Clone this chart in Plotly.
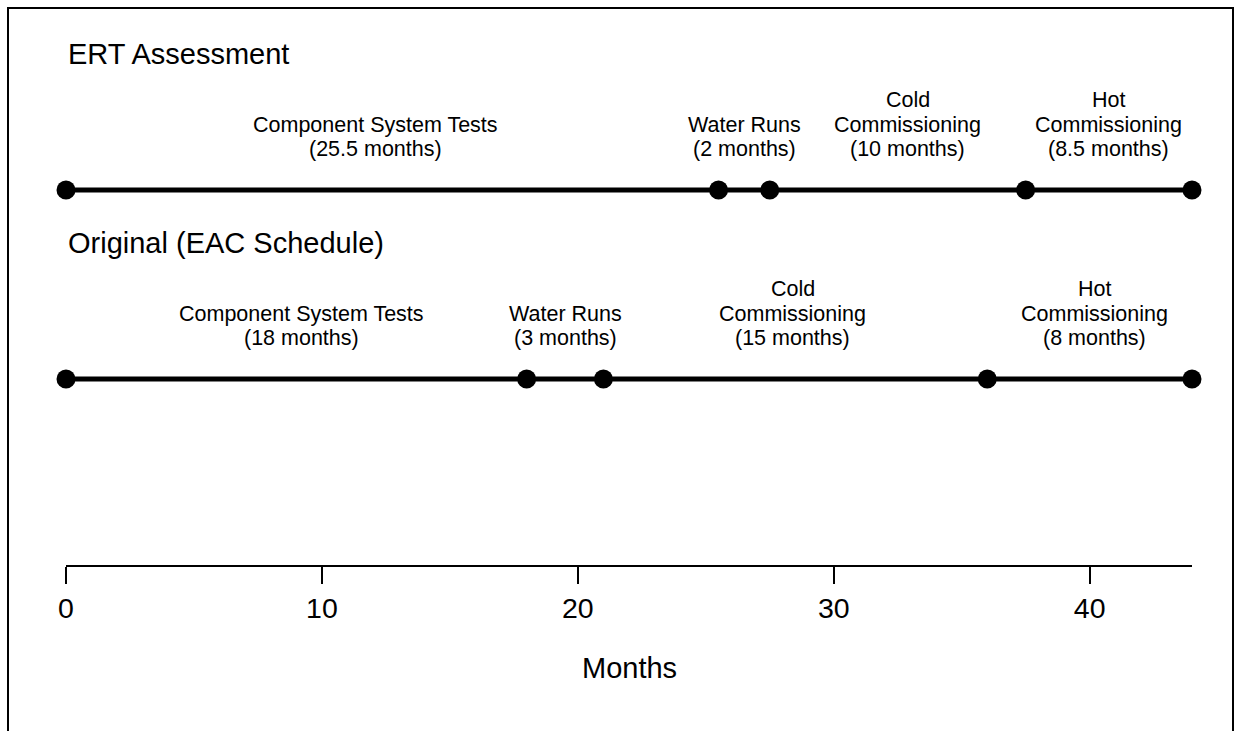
import plotly.graph_objects as go

# ---- data ----
ert_points = [0, 25.5, 27.5, 37.5, 44]
orig_points = [0, 18, 21, 36, 44]

ert_labels = ["Component System Tests<br>(25.5 months)", "Water Runs<br>(2 months)",
              "Cold<br>Commissioning<br>(10 months)", "Hot<br>Commissioning<br>(8.5 months)"]
ert_label_x = [12.1, 26.5, 32.9, 40.75]

orig_labels = ["Component System Tests<br>(18 months)", "Water Runs<br>(3 months)",
               "Cold<br>Commissioning<br>(15 months)", "Hot<br>Commissioning<br>(8 months)"]
orig_label_x = [9.2, 19.5, 28.4, 40.2]

row_titles = ["ERT Assessment", "Original (EAC Schedule)"]
tick_vals = [0, 10, 20, 30, 40]
x_range = [0, 44]

FONT = "Liberation Sans, Arial, sans-serif"

rows = [1, 2]
fig = go.Figure()
for r, pts in zip(rows, [ert_points, orig_points]):
    fig.add_trace(go.Scatter(
        x=pts, y=[r] * len(pts), mode="lines+markers",
        line=dict(color="black", width=5),
        marker=dict(color="black", size=19),
        cliponaxis=False, showlegend=False, hoverinfo="skip"))

annotations = []
LINE_H = 24.5
for r, labels, lx in [(1, ert_labels, ert_label_x), (2, orig_labels, orig_label_x)]:
    for text, x in zip(labels, lx):
        lines = text.split("<br>")
        n = len(lines)
        for i, ln in enumerate(lines):
            shift = 41 + (n - 1 - i) * LINE_H
            annotations.append(dict(
                x=x, y=r, xref="x", yref="y", text=ln, showarrow=False,
                xanchor="center", yanchor="middle", yshift=shift,
                font=dict(family=FONT, size=21.5, color="black")))

for r, t in zip(rows, row_titles):
    annotations.append(dict(
        x=0, y=r, xref="x", yref="y", text=t, showarrow=False,
        xanchor="left", yanchor="middle", yshift=136,
        font=dict(family=FONT, size=29, color="black")))

annotations.append(dict(
    x=22, y=0, xref="x", yref="paper", text="Months", showarrow=False,
    xanchor="center", yanchor="middle", yshift=-103,
    font=dict(family=FONT, size=29, color="black")))

W, H = 1235, 731
L, R, T, B = 66, 43, 0, 166
pw = W - L - R
ph = H - T - B
fig.update_layout(
    width=W, height=H,
    margin=dict(l=L, r=R, t=T, b=B, pad=0),
    paper_bgcolor="white", plot_bgcolor="white",
    annotations=annotations,
    xaxis=dict(range=x_range, tickvals=tick_vals, showgrid=False, zeroline=False,
               showline=True, linecolor="black", linewidth=2,
               ticks="outside", ticklen=17, tickwidth=2, tickcolor="black",
               tickfont=dict(family=FONT, size=28.5, color="black")),
    yaxis=dict(range=[2 + 186 / 189, 1 - 190 / 189], visible=False, fixedrange=True),
    shapes=[dict(type="rect", xref="paper", yref="paper",
                 x0=(8 - L) / pw, x1=(1233 - L) / pw,
                 y0=-0.6, y1=1 - (8 - T) / ph,
                 line=dict(color="black", width=2), fillcolor="rgba(0,0,0,0)")],
)
fig.write_html("out.html", config={"displayModeBar": False},
               post_script="document.body.style.margin='0';document.body.style.overflow='hidden';")
